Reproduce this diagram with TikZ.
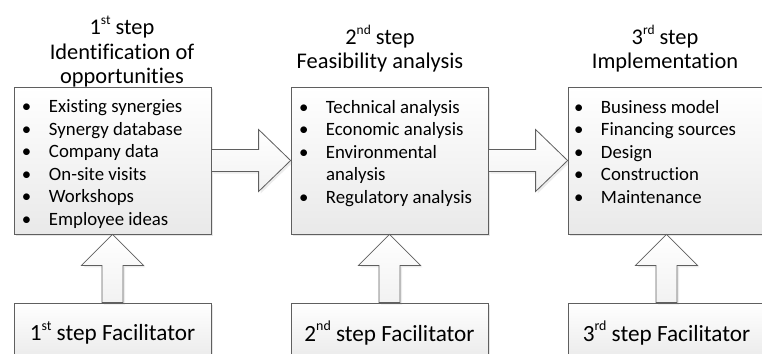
\documentclass[tikz,border=0pt]{standalone}
\usepackage{fontspec}
\setmainfont{Carlito}[Ligatures=NoCommon]
\usepackage{tikz}
\usetikzlibrary{calc,positioning,shadows}
\definecolor{boxline}{HTML}{5F5F5F}
\definecolor{boxfill}{HTML}{E9E9E9}
\newcommand{\bitem}[1]{\makebox[13.5pt][l]{\textbullet}#1}
\newcommand{\bgap}{\hspace*{13.5pt}}
\newcommand{\ordsup}[1]{\raisebox{0.45em}{\scalebox{0.6}{#1}}}

\begin{document}
\begin{tikzpicture}[x=0.5pt,y=-0.5pt,
  stepbox/.style={draw=boxline, top color=white, bottom color=boxfill,
    minimum width=98.5pt, minimum height=73.5pt, inner sep=0pt,
    drop shadow={shadow xshift=1pt,shadow yshift=-1pt,opacity=0.2}},
  facbox/.style={stepbox, minimum height=30pt, font=\fontsize{11.6}{14}\selectfont},
  blockarrow/.style={draw=boxline, top color=white, bottom color=boxfill!60,
    line join=miter,
    drop shadow={shadow xshift=1pt,shadow yshift=-1pt,opacity=0.15}},
  titletext/.style={align=center, inner sep=0pt, anchor=south,
    font=\fontsize{11.2}{12.3}\selectfont},
  itemlist/.style={align=left, inner sep=0pt, anchor=north west,
    font=\fontsize{9.4}{11.25}\selectfont}]
\clip (0,0) rectangle (762,354);

% the three steps
\node[stepbox] (s1) at (112.5,160.5) {};
\node[stepbox] (s2) at (389.5,160.5) {};
\node[stepbox] (s3) at (666.5,160.5) {};

\node[titletext] (t1) at (122,88) {1\ordsup{st} step\\Identification of\\opportunities};
\node[titletext] (t2) at (380,73) {2\ordsup{nd} step\\Feasibility analysis};
\node[titletext] (t3) at (665,73) {3\ordsup{rd} step\\Implementation};

\node[itemlist] (l1) at ($(s1.north west)+(8,13)$) {\bitem{Existing synergies}\\\bitem{Synergy database}\\\bitem{Company data}\\\bitem{On-site visits}\\\bitem{Workshops}\\\bitem{Employee ideas}};
\node[itemlist] (l2) at ($(s2.north west)+(8,13)$) {\bitem{Technical analysis}\\\bitem{Economic analysis}\\\bitem{Environmental}\\\bgap analysis\\\bitem{Regulatory analysis}};
\node[itemlist] (l3) at ($(s3.north west)+(6,13)$) {\bitem{Business model}\\\bitem{Financing sources}\\\bitem{Design}\\\bitem{Construction}\\\bitem{Maintenance}};

% facilitators
\node[facbox] (f1) at (112.5,333) {1\ordsup{st} step Facilitator};
\node[facbox] (f2) at (389.5,333) {2\ordsup{nd} step Facilitator};
\node[facbox] (f3) at (666.5,333) {3\ordsup{rd} step Facilitator};

% arrows between steps
\draw[blockarrow] ($(s1.east)+(0,-11)$) -- ($(s2.west)+(-32,-11)$) -- ($(s2.west)+(-32,-31)$) -- (s2.west)
  -- ($(s2.west)+(-32,31)$) -- ($(s2.west)+(-32,11)$) -- ($(s1.east)+(0,11)$) -- cycle;
\draw[blockarrow] ($(s2.east)+(0,-11)$) -- ($(s3.west)+(-32,-11)$) -- ($(s3.west)+(-32,-31)$) -- (s3.west)
  -- ($(s3.west)+(-32,31)$) -- ($(s3.west)+(-32,11)$) -- ($(s2.east)+(0,11)$) -- cycle;

% arrows from facilitators
\foreach \i in {1,2,3}{
\draw[blockarrow] ($(f\i.north)+(-10.5,0)$) -- ($(s\i.south)+(-10.5,31)$) -- ($(s\i.south)+(-31,31)$) -- (s\i.south)
  -- ($(s\i.south)+(31,31)$) -- ($(s\i.south)+(10.5,31)$) -- ($(f\i.north)+(10.5,0)$) -- cycle;
}
\end{tikzpicture}
\end{document}
